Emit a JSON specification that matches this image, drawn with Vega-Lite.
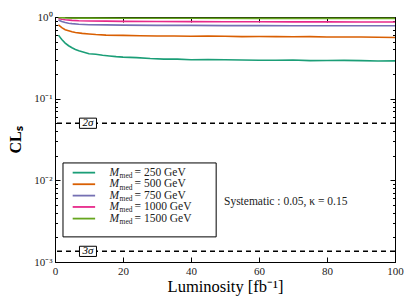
{
  "$schema": "https://vega.github.io/schema/vega-lite/v6.json",
  "width": 340,
  "height": 245,
  "autosize": "none",
  "padding": {"left": 55, "top": 17, "right": 20, "bottom": 44},
  "background": "white",
  "config": {
    "view": {"stroke": "black", "strokeWidth": 1},
    "font": "Liberation Serif",
    "axis": {
      "domainColor": "black",
      "tickColor": "black",
      "labelColor": "#222",
      "labelFont": "Liberation Serif",
      "labelFontSize": 11,
      "titleFont": "Liberation Serif",
      "titleColor": "black",
      "grid": false
    }
  },
  "resolve": {"axis": {"x": "independent", "y": "independent"}},
  "datasets": {
    "curves": [
      {"s": "250", "x": 1, "y": 0.60}, {"s": "250", "x": 2, "y": 0.53}, {"s": "250", "x": 3, "y": 0.48}, {"s": "250", "x": 4, "y": 0.445}, {"s": "250", "x": 5, "y": 0.42}, {"s": "250", "x": 6, "y": 0.40}, {"s": "250", "x": 7, "y": 0.385}, {"s": "250", "x": 8, "y": 0.375}, {"s": "250", "x": 9, "y": 0.365}, {"s": "250", "x": 10, "y": 0.355}, {"s": "250", "x": 12, "y": 0.35}, {"s": "250", "x": 14, "y": 0.34}, {"s": "250", "x": 16, "y": 0.333}, {"s": "250", "x": 18, "y": 0.327}, {"s": "250", "x": 20, "y": 0.323}, {"s": "250", "x": 24, "y": 0.318}, {"s": "250", "x": 28, "y": 0.31}, {"s": "250", "x": 32, "y": 0.305}, {"s": "250", "x": 36, "y": 0.305}, {"s": "250", "x": 40, "y": 0.30}, {"s": "250", "x": 45, "y": 0.302}, {"s": "250", "x": 50, "y": 0.30}, {"s": "250", "x": 55, "y": 0.298}, {"s": "250", "x": 60, "y": 0.296}, {"s": "250", "x": 65, "y": 0.295}, {"s": "250", "x": 70, "y": 0.298}, {"s": "250", "x": 75, "y": 0.292}, {"s": "250", "x": 80, "y": 0.293}, {"s": "250", "x": 85, "y": 0.294}, {"s": "250", "x": 90, "y": 0.292}, {"s": "250", "x": 95, "y": 0.289}, {"s": "250", "x": 100, "y": 0.29},
      {"s": "500", "x": 1, "y": 0.80}, {"s": "500", "x": 2, "y": 0.74}, {"s": "500", "x": 3, "y": 0.70}, {"s": "500", "x": 4, "y": 0.68}, {"s": "500", "x": 5, "y": 0.66}, {"s": "500", "x": 6, "y": 0.645}, {"s": "500", "x": 8, "y": 0.63}, {"s": "500", "x": 10, "y": 0.62}, {"s": "500", "x": 12, "y": 0.61}, {"s": "500", "x": 15, "y": 0.60}, {"s": "500", "x": 20, "y": 0.595}, {"s": "500", "x": 25, "y": 0.59}, {"s": "500", "x": 30, "y": 0.585}, {"s": "500", "x": 35, "y": 0.585}, {"s": "500", "x": 40, "y": 0.58}, {"s": "500", "x": 45, "y": 0.585}, {"s": "500", "x": 50, "y": 0.58}, {"s": "500", "x": 55, "y": 0.575}, {"s": "500", "x": 60, "y": 0.578}, {"s": "500", "x": 65, "y": 0.575}, {"s": "500", "x": 70, "y": 0.572}, {"s": "500", "x": 75, "y": 0.575}, {"s": "500", "x": 80, "y": 0.57}, {"s": "500", "x": 85, "y": 0.57}, {"s": "500", "x": 90, "y": 0.568}, {"s": "500", "x": 95, "y": 0.566}, {"s": "500", "x": 100, "y": 0.562},
      {"s": "750", "x": 1, "y": 0.92}, {"s": "750", "x": 2, "y": 0.88}, {"s": "750", "x": 3, "y": 0.855}, {"s": "750", "x": 4, "y": 0.84}, {"s": "750", "x": 5, "y": 0.83}, {"s": "750", "x": 7, "y": 0.815}, {"s": "750", "x": 10, "y": 0.805}, {"s": "750", "x": 15, "y": 0.80}, {"s": "750", "x": 20, "y": 0.795}, {"s": "750", "x": 30, "y": 0.79}, {"s": "750", "x": 40, "y": 0.79}, {"s": "750", "x": 50, "y": 0.785}, {"s": "750", "x": 60, "y": 0.785}, {"s": "750", "x": 70, "y": 0.782}, {"s": "750", "x": 80, "y": 0.782}, {"s": "750", "x": 90, "y": 0.78}, {"s": "750", "x": 100, "y": 0.78},
      {"s": "1000", "x": 1, "y": 0.96}, {"s": "1000", "x": 2, "y": 0.94}, {"s": "1000", "x": 3, "y": 0.925}, {"s": "1000", "x": 5, "y": 0.91}, {"s": "1000", "x": 7, "y": 0.90}, {"s": "1000", "x": 10, "y": 0.895}, {"s": "1000", "x": 15, "y": 0.89}, {"s": "1000", "x": 20, "y": 0.885}, {"s": "1000", "x": 30, "y": 0.88}, {"s": "1000", "x": 40, "y": 0.878}, {"s": "1000", "x": 50, "y": 0.875}, {"s": "1000", "x": 60, "y": 0.875}, {"s": "1000", "x": 70, "y": 0.872}, {"s": "1000", "x": 80, "y": 0.872}, {"s": "1000", "x": 90, "y": 0.87}, {"s": "1000", "x": 100, "y": 0.87},
      {"s": "1500", "x": 1, "y": 0.985}, {"s": "1500", "x": 3, "y": 0.975}, {"s": "1500", "x": 5, "y": 0.97}, {"s": "1500", "x": 10, "y": 0.968}, {"s": "1500", "x": 20, "y": 0.965}, {"s": "1500", "x": 40, "y": 0.965}, {"s": "1500", "x": 60, "y": 0.963}, {"s": "1500", "x": 80, "y": 0.963}, {"s": "1500", "x": 100, "y": 0.962}
    ],
    "sigmas": [
      {"label": "2σ", "y": 0.05},
      {"label": "3σ", "y": 0.00135}
    ],
    "legend": [
      {"s": "250", "text": "= 250 GeV", "y": 0.01242},
      {"s": "500", "text": "= 500 GeV", "y": 0.00896},
      {"s": "750", "text": "= 750 GeV", "y": 0.0065},
      {"s": "1000", "text": "= 1000 GeV", "y": 0.00472},
      {"s": "1500", "text": "= 1500 GeV", "y": 0.0034}
    ],
    "legendbox": [{"x": 2.35, "x2": 47.4, "y": 0.01633, "y2": 0.00203}],
    "note": [{"text": "Systematic : 0.05, κ = 0.15", "x": 49.7, "y": 0.0054}]
  },
  "layer": [
    {
      "data": {"name": "curves"},
      "mark": {"type": "line", "strokeWidth": 1.6, "clip": true},
      "encoding": {
        "x": {
          "field": "x", "type": "quantitative",
          "scale": {"domain": [0, 100], "nice": false, "zero": false},
          "axis": {
            "orient": "bottom",
            "values": [0, 20, 40, 60, 80, 100],
            "title": "Luminosity [fb⁻¹]",
            "titleFontSize": 16.5,
            "titleFontWeight": "normal",
            "titlePadding": 2,
            "tickSize": -5,
            "labelPadding": 8,
            "labelFlush": false
          }
        },
        "y": {
          "field": "y", "type": "quantitative",
          "scale": {"type": "log", "domain": [0.001, 1], "nice": false},
          "axis": {
            "orient": "left",
            "values": [0.001, 0.002, 0.003, 0.004, 0.005, 0.006, 0.007, 0.008, 0.009, 0.01, 0.02, 0.03, 0.04, 0.05, 0.06, 0.07, 0.08, 0.09, 0.1, 0.2, 0.3, 0.4, 0.5, 0.6, 0.7, 0.8, 0.9, 1],
            "labelExpr": "datum.value == 1 ? '10⁰' : datum.value == 0.1 ? '10⁻¹' : datum.value == 0.01 ? '10⁻²' : datum.value == 0.001 ? '10⁻³' : ''",
            "tickSize": {"condition": {"test": "indexof([1, 0.1, 0.01, 0.001], datum.value) >= 0", "value": -5}, "value": -2.5},
            "labelPadding": 8,
            "labelFlush": false,
            "title": "CLₛ",
            "titleFontSize": 16,
            "titleFontWeight": "bold",
            "titlePadding": 10
          }
        },
        "color": {
          "field": "s", "type": "nominal",
          "scale": {"domain": ["250", "500", "750", "1000", "1500"], "range": ["#1b9e77", "#d95f02", "#7570b3", "#e7298a", "#66a61e"]},
          "legend": null
        },
        "order": {"field": "x", "type": "quantitative"}
      }
    },
    {
      "data": {"name": "legendbox"},
      "mark": {"type": "point", "opacity": 0},
      "encoding": {
        "x": {
          "field": "x", "type": "quantitative",
          "axis": {"orient": "top", "values": [0, 20, 40, 60, 80, 100], "labels": false, "domain": false, "title": null, "tickSize": -5}
        },
        "y": {
          "field": "y", "type": "quantitative",
          "axis": {
            "orient": "right",
            "values": [0.001, 0.002, 0.003, 0.004, 0.005, 0.006, 0.007, 0.008, 0.009, 0.01, 0.02, 0.03, 0.04, 0.05, 0.06, 0.07, 0.08, 0.09, 0.1, 0.2, 0.3, 0.4, 0.5, 0.6, 0.7, 0.8, 0.9, 1],
            "labels": false, "domain": false, "title": null,
            "tickSize": {"condition": {"test": "indexof([1, 0.1, 0.01, 0.001], datum.value) >= 0", "value": -5}, "value": -2.5}
          }
        }
      }
    },
    {
      "data": {"name": "sigmas"},
      "mark": {"type": "rule", "color": "black", "strokeWidth": 1.5, "strokeDash": [5, 4]},
      "encoding": {"y": {"field": "y", "type": "quantitative", "axis": null}}
    },
    {
      "data": {"name": "sigmas"},
      "mark": {"type": "point", "shape": "M-1,-0.6H1V0.6H-1Z", "filled": true, "fill": "white", "stroke": "black", "strokeWidth": 1, "size": 289, "opacity": 1},
      "encoding": {"x": {"datum": 9.7, "type": "quantitative", "axis": null}, "y": {"field": "y", "type": "quantitative", "axis": null}}
    },
    {
      "data": {"name": "sigmas"},
      "mark": {"type": "text", "fontSize": 11, "fontStyle": "italic", "baseline": "middle", "align": "center", "color": "black"},
      "encoding": {"x": {"datum": 9.7, "type": "quantitative", "axis": null}, "y": {"field": "y", "type": "quantitative", "axis": null}, "text": {"field": "label"}}
    },
    {
      "data": {"name": "legendbox"},
      "mark": {"type": "rect", "fill": "white", "stroke": "black", "strokeWidth": 1},
      "encoding": {
        "x": {"field": "x", "type": "quantitative", "axis": null}, "x2": {"field": "x2"},
        "y": {"field": "y", "type": "quantitative", "axis": null}, "y2": {"field": "y2"}
      }
    },
    {
      "data": {"name": "legend"},
      "mark": {"type": "rule", "strokeWidth": 1.8},
      "encoding": {
        "x": {"datum": 5.2, "type": "quantitative", "axis": null}, "x2": {"datum": 11.8},
        "y": {"field": "y", "type": "quantitative", "axis": null},
        "color": {"field": "s", "type": "nominal", "legend": null}
      }
    },
    {
      "data": {"name": "legend"},
      "mark": {"type": "text", "text": "M", "fontSize": 11.5, "fontStyle": "italic", "align": "left", "baseline": "middle", "color": "#222"},
      "encoding": {"x": {"datum": 16.0, "type": "quantitative", "axis": null}, "y": {"field": "y", "type": "quantitative", "axis": null}}
    },
    {
      "data": {"name": "legend"},
      "mark": {"type": "text", "text": "med", "fontSize": 7.5, "align": "left", "baseline": "middle", "dy": 3.5, "color": "#222"},
      "encoding": {"x": {"datum": 19.0, "type": "quantitative", "axis": null}, "y": {"field": "y", "type": "quantitative", "axis": null}}
    },
    {
      "data": {"name": "legend"},
      "mark": {"type": "text", "fontSize": 11.5, "align": "left", "baseline": "middle", "color": "#222"},
      "encoding": {"x": {"datum": 23.4, "type": "quantitative", "axis": null}, "y": {"field": "y", "type": "quantitative", "axis": null}, "text": {"field": "text"}}
    },
    {
      "data": {"name": "note"},
      "mark": {"type": "text", "fontSize": 11.5, "align": "left", "baseline": "middle", "color": "#222"},
      "encoding": {"x": {"field": "x", "type": "quantitative", "axis": null}, "y": {"field": "y", "type": "quantitative", "axis": null}, "text": {"field": "text"}}
    }
  ]
}
